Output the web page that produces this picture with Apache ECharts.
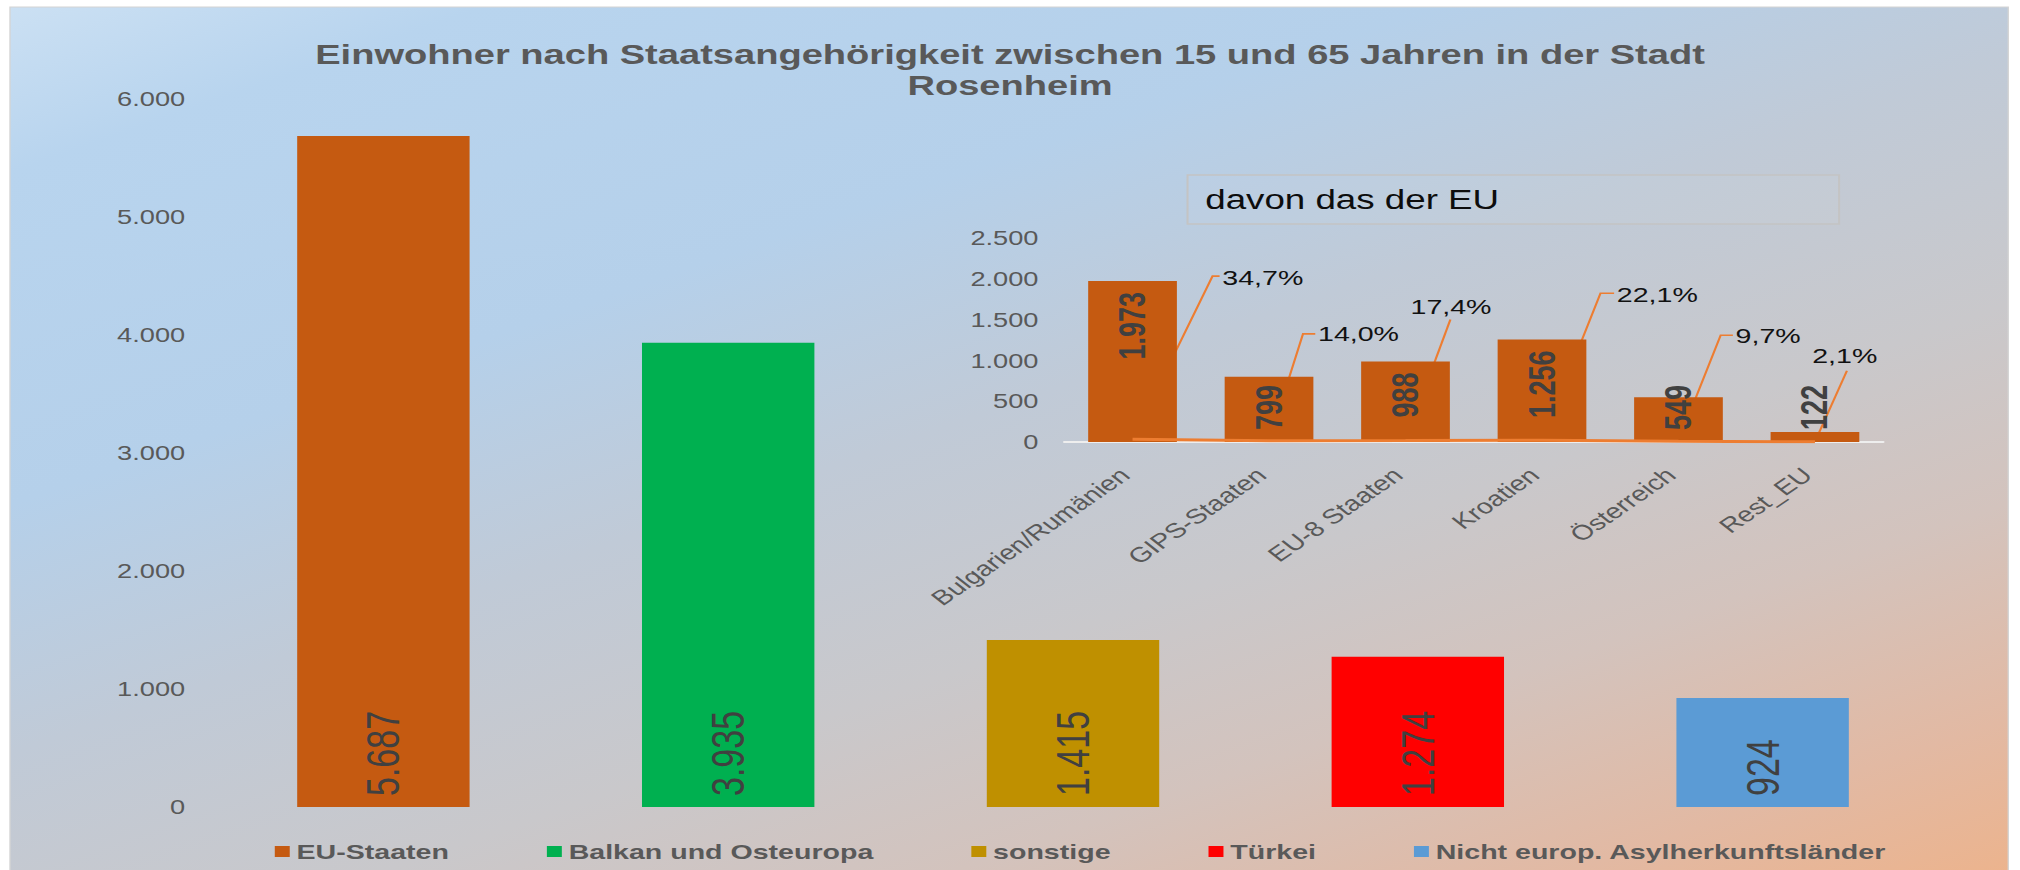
<!DOCTYPE html>
<html>
<head>
<meta charset="utf-8">
<script src="https://cdn.jsdelivr.net/npm/echarts@6/dist/echarts.min.js"></script>
<style>
html,body{margin:0;padding:0;background:#ffffff;overflow:hidden;width:2020px;height:870px;}
#wrap{position:absolute;left:0;top:0;width:1485px;height:870px;transform:scaleX(1.3603);transform-origin:0 0;}
</style>
</head>
<body>
<div id="wrap"></div>
<script>
// ---------- data ----------
const mainCategories = ['EU-Staaten', 'Balkan und Osteuropa', 'sonstige', 'Türkei', 'Nicht europ. Asylherkunftsländer'];
const mainValues = [5687, 3935, 1415, 1274, 924];
const mainColors = ['#c55a11', '#00b050', '#bf9000', '#ff0000', '#5b9bd5'];
const mainTicks = { min: 0, max: 6000, interval: 1000 };

const euCategories = ['Bulgarien/Rumänien', 'GIPS-Staaten', 'EU-8 Staaten', 'Kroatien', 'Österreich', 'Rest_EU'];
const euValues = [1973, 799, 988, 1256, 549, 122];
const euPercent = [34.7, 14.0, 17.4, 22.1, 9.7, 2.1];
const euTicks = { min: 0, max: 2500, interval: 500 };

const titleText = 'Einwohner nach Staatsangehörigkeit zwischen 15 und 65 Jahren in der Stadt\nRosenheim';
const insetTitle = 'davon das der EU';

// ---------- layout (manually placed percentage labels, offsets from data point) ----------
const pctLabelLayout = [
  { text: [66, -162], line: [[0, 0], [58.8, -163], [64, -163]] },
  { text: [36, -107], line: [[0, 0], [25, -107], [34, -107]] },
  { text: [3.7, -134], line: [[0, 0], [33, -121]] },
  { text: [55, -146], line: [[0, 0], [43, -147], [53, -147]] },
  { text: [42, -106], line: [[0, 0], [31, -106], [40, -106]] },
  { text: [-2, -86], line: [[0, 0], [23.5, -71]] }
];

const FONT = "'Liberation Sans', Arial, sans-serif";
const fmt = v => String(v).replace(/\B(?=(\d{3})+(?!\d))/g, '.');
const fmtPct = v => v.toFixed(1).replace('.', ',') + '%';

const INSET_TOP = 238, INSET_BOTTOM = 428, H = 870;
const insetPxPerUnit = (H - INSET_TOP - INSET_BOTTOM) / euTicks.max;
const INSET_LABEL_FONT = 27;
const measureCtx = document.createElement('canvas').getContext('2d');
measureCtx.font = 'bold ' + INSET_LABEL_FONT + "px 'Liberation Sans', Arial, sans-serif";

const chart = echarts.init(document.getElementById('wrap'), null, { renderer: 'svg', width: 1485, height: 870 });

const mainSeries = mainCategories.map((name, i) => ({
  type: 'bar',
  name: name,
  stack: 'main',
  barWidth: '50%',
  xAxisIndex: 0,
  yAxisIndex: 0,
  z: 2,
  itemStyle: { color: mainColors[i] },
  data: mainValues.map((v, j) => (j === i ? v : '-')),
  label: {
    show: true,
    position: 'insideBottom',
    rotate: 90,
    align: 'left',
    verticalAlign: 'middle',
    distance: 11,
    fontSize: 34,
    fontFamily: FONT,
    color: '#404040',
    formatter: p => fmt(p.value)
  }
}));

// inset bar labels: at the top of the bar, or at the bottom if the bar is too short
const euBarData = euValues.map(v => {
  const len = measureCtx.measureText(fmt(v)).width;
  const fitsTop = 11 + len + 12 <= v * insetPxPerUnit;
  return fitsTop ? v : {
    value: v,
    label: { position: 'insideBottom', align: 'left', distance: 12 }
  };
});

const option = {
  animation: false,
  backgroundColor: 'transparent',
  textStyle: { fontFamily: FONT },
  title: {
    text: titleText,
    left: 'center',
    top: 34,
    textStyle: { fontSize: 28, fontWeight: 'bold', color: '#595959', lineHeight: 31, fontFamily: FONT }
  },
  legend: {
    data: mainCategories,
    left: 197,
    top: 836,
    icon: 'rect',
    itemWidth: 11,
    itemHeight: 11,
    itemGap: 72,
    textStyle: { fontSize: 21, fontWeight: 'bold', color: '#595959', fontFamily: FONT },
    selectedMode: false
  },
  graphic: {
    elements: [
      {
        type: 'rect',
        z: -100,
        silent: true,
        shape: { x: 7.35, y: 7, width: 1469, height: 870 },
        style: {
          fill: {
            type: 'linear', x: 0, y: 0, x2: 0.93, y2: 1.16,
            colorStops: [
              { offset: 0, color: '#cbe0f3' },
              { offset: 0.1, color: '#b8d4ee' },
              { offset: 0.3, color: '#b5d0ea' },
              { offset: 0.45, color: '#c0cad7' },
              { offset: 0.6, color: '#c9c8cb' },
              { offset: 0.72, color: '#d3c3bd' },
              { offset: 0.85, color: '#e2b9a3' },
              { offset: 1, color: '#f2b080' }
            ]
          },
          stroke: '#d4d4d4',
          lineWidth: 1
        }
      },
      {
        type: 'rect',
        z: 0,
        silent: true,
        shape: { x: 873, y: 175, width: 479, height: 49 },
        style: { fill: 'rgba(255,255,255,0.04)', stroke: '#c4c4c4', lineWidth: 1.5 }
      },
      {
        type: 'text',
        z: 1,
        silent: true,
        x: 886,
        y: 199.5,
        style: { text: insetTitle, fontSize: 27, fontFamily: FONT, fill: '#0d0d0d', verticalAlign: 'middle', align: 'left' }
      }
    ]
  },
  grid: [
    { left: 155.1, right: 62.5, top: 99, bottom: 63, containLabel: false, outerBoundsMode: 'none' },
    { left: 782.4, right: 100.6, top: INSET_TOP, bottom: INSET_BOTTOM, containLabel: false, outerBoundsMode: 'none' }
  ],
  xAxis: [
    {
      type: 'category', gridIndex: 0, data: mainCategories,
      axisLine: { show: false }, axisTick: { show: false }, axisLabel: { show: false }, splitLine: { show: false }
    },
    {
      type: 'category', gridIndex: 1, data: euCategories,
      axisLine: { show: true, lineStyle: { color: '#eeeeee', width: 2 } },
      axisTick: { show: false },
      splitLine: { show: false },
      axisLabel: {
        interval: 0, rotate: 43, margin: 24, align: 'right', verticalAlign: 'middle',
        padding: [0, 8, 0, 0],
        fontSize: 21, fontFamily: FONT, color: '#595959'
      }
    }
  ],
  yAxis: [
    {
      type: 'value', gridIndex: 0, min: mainTicks.min, max: mainTicks.max, interval: mainTicks.interval,
      axisLine: { show: false }, axisTick: { show: false }, splitLine: { show: false },
      axisLabel: { margin: 19, fontSize: 20, fontFamily: FONT, color: '#595959', formatter: v => fmt(v) }
    },
    {
      type: 'value', gridIndex: 1, min: euTicks.min, max: euTicks.max, interval: euTicks.interval,
      axisLine: { show: false }, axisTick: { show: false }, splitLine: { show: false },
      axisLabel: { margin: 19, fontSize: 20, fontFamily: FONT, color: '#595959', formatter: v => fmt(v) }
    }
  ],
  series: mainSeries.concat([
    {
      type: 'custom',
      name: 'Anteil',
      xAxisIndex: 1,
      yAxisIndex: 1,
      z: 1,
      silent: true,
      data: euPercent.map((v, i) => [i, v]),
      renderItem: (params, api) => {
        const i = params.dataIndex;
        const p = api.coord([api.value(0), api.value(1)]);
        const L = pctLabelLayout[i];
        return {
          type: 'group',
          children: [
            {
              type: 'polyline',
              shape: { points: L.line.map(q => [p[0] + q[0], p[1] + q[1]]) },
              style: { stroke: '#ed7d31', lineWidth: 1.6, fill: null }
            },
            {
              type: 'text',
              x: p[0] + L.text[0],
              y: p[1] + L.text[1],
              style: {
                text: fmtPct(euPercent[i]), fontSize: 21, fontFamily: FONT, fill: '#111111',
                align: 'left', verticalAlign: 'middle'
              }
            }
          ]
        };
      }
    },
    {
      type: 'bar',
      name: 'EU-Detail',
      xAxisIndex: 1,
      yAxisIndex: 1,
      barWidth: '65%',
      z: 2,
      itemStyle: { color: '#c55a11' },
      data: euBarData,
      label: {
        show: true,
        position: 'insideTop',
        rotate: 90,
        align: 'right',
        verticalAlign: 'middle',
        distance: 11,
        fontSize: INSET_LABEL_FONT,
        fontWeight: 'bold',
        fontFamily: FONT,
        color: '#404040',
        formatter: p => fmt(p.value)
      }
    },
    {
      type: 'line',
      name: 'Anteil-Linie',
      xAxisIndex: 1,
      yAxisIndex: 1,
      z: 4,
      silent: true,
      symbol: 'none',
      lineStyle: { color: '#ed7d31', width: 3 },
      data: euPercent
    }
  ])
};

chart.setOption(option);
</script>
</body>
</html>
